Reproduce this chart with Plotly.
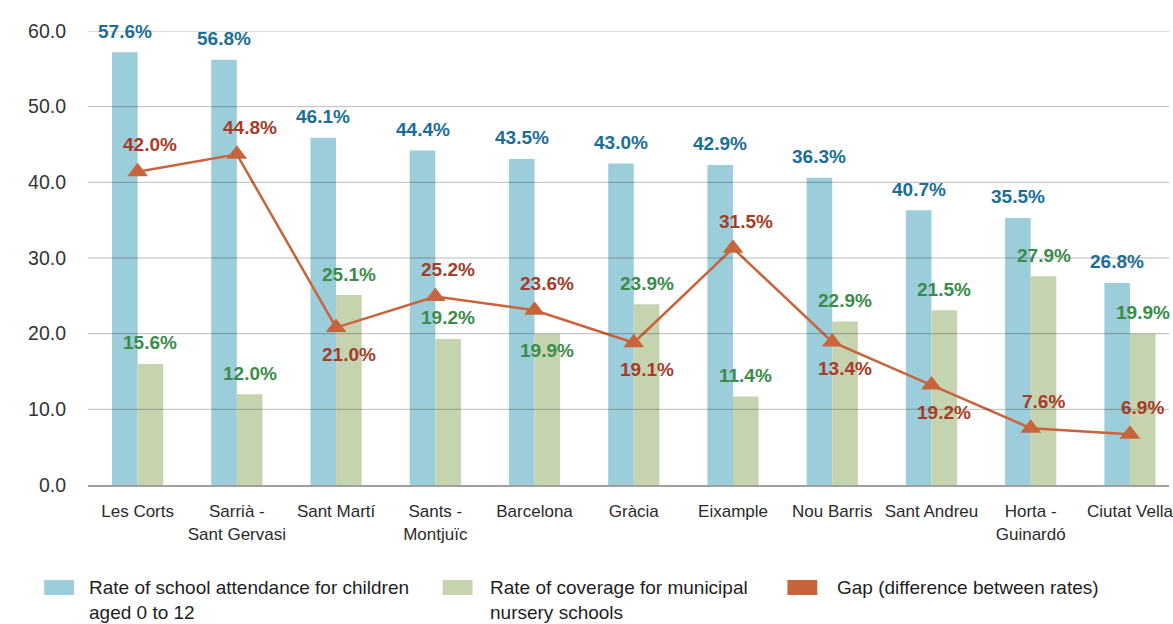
import plotly.graph_objects as go

# ---------------- data ----------------
districts = ["Les Corts", "Sarrià -<br>Sant Gervasi", "Sant Martí", "Sants -<br>Montjuïc",
             "Barcelona", "Gràcia", "Eixample", "Nou Barris", "Sant Andreu",
             "Horta -<br>Guinardó", "Ciutat Vella"]
attendance = [57.2, 56.2, 45.9, 44.2, 43.1, 42.5, 42.3, 40.6, 36.3, 35.3, 26.7]
coverage = [16.0, 12.0, 25.1, 19.3, 20.0, 23.9, 11.7, 21.6, 23.1, 27.6, 20.0]
gap = [41.4, 43.7, 20.8, 24.9, 23.1, 18.8, 31.3, 18.9, 13.2, 7.5, 6.7]

attendance_labels = ["57.6%", "56.8%", "46.1%", "44.4%", "43.5%", "43.0%", "42.9%",
                     "36.3%", "40.7%", "35.5%", "26.8%"]
coverage_labels = ["15.6%", "12.0%", "25.1%", "19.2%", "19.9%", "23.9%", "11.4%",
                   "22.9%", "21.5%", "27.9%", "19.9%"]
gap_labels = ["42.0%", "44.8%", "21.0%", "25.2%", "23.6%", "19.1%", "31.5%",
              "13.4%", "19.2%", "7.6%", "6.9%"]

y_ticks = [0, 10, 20, 30, 40, 50, 60]

series_names = [["Rate of school attendance for children", "aged 0 to 12"],
                ["Rate of coverage for municipal", "nursery schools"],
                ["Gap (difference between rates)"]]

# ---------------- style ----------------
BLUE = "#9bcdda"
GREEN = "#c5d4af"
ORANGE = "#c8643c"
BLUE_TXT = "#1b6e98"
GREEN_TXT = "#3b8c4a"
RED_TXT = "#a63c28"
coverage_pos = ["above"] * 11
coverage_pos[4] = "below"
gap_pos = ["above", "above", "below", "above", "above", "below", "above",
           "below", "below", "above", "above"]

FONT = "Liberation Sans, Arial, sans-serif"

W, H = 1173, 624
ML, MR, MT = 88, 0, 31
MB = H - 485
PW, PH = W - ML - MR, H - MT - MB
SPACING = 99.6
x_max = -0.5 + PW / SPACING

fig = go.Figure()
fig.add_trace(go.Bar(x=districts, y=attendance, marker_color=BLUE, marker_line_width=0,
                     name=" ".join(series_names[0]), showlegend=False))
fig.add_trace(go.Bar(x=districts, y=coverage, marker_color=GREEN, marker_line_width=0,
                     name=" ".join(series_names[1]), showlegend=False))
fig.add_trace(go.Scatter(x=districts, y=gap, mode="lines+markers",
                         line=dict(color=ORANGE, width=2.5),
                         marker=dict(symbol="triangle-up", size=18, color=ORANGE),
                         name=series_names[2][0], showlegend=False))

ann = []
LBL = dict(family=FONT, size=19, weight="bold")
for i, d in enumerate(districts):
    ann.append(dict(x=d, y=attendance[i], text=attendance_labels[i], showarrow=False,
                    xshift=-12.8, yshift=21, yanchor="middle",
                    font=dict(LBL, color=BLUE_TXT)))
    ann.append(dict(x=d, y=coverage[i], text=coverage_labels[i], showarrow=False,
                    xshift=12.8, yshift=21 if coverage_pos[i] == "above" else -17,
                    yanchor="middle", font=dict(LBL, color=GREEN_TXT)))
    ann.append(dict(x=d, y=gap[i], text=gap_labels[i], showarrow=False,
                    xshift=12.8, yshift=27 if gap_pos[i] == "above" else -27,
                    yanchor="middle", font=dict(LBL, color=RED_TXT)))

# gridlines drawn over the bars, as in the original
shapes = []
for t in y_ticks[1:]:
    shapes.append(dict(type="line", xref="paper", yref="y", x0=0, x1=1, y0=t, y1=t,
                       line=dict(color="rgba(0,0,0,0.27)", width=1), layer="above"))

# manual legend (pixel positions converted to paper coordinates)
def px_x(px):
    return (px - ML) / PW

def px_y(py):
    return (MT + PH - py) / PH

legend_items = [(44, 89.5, BLUE, series_names[0]),
                (444, 491, GREEN, series_names[1]),
                (790, 839.5, ORANGE, series_names[2])]
for rx, tx, col, lines in legend_items:
    shapes.append(dict(type="rect", xref="paper", yref="paper",
                       x0=px_x(rx), x1=px_x(rx + 30), y0=px_y(595), y1=px_y(580),
                       fillcolor=col, line=dict(width=0)))
    for j, line in enumerate(lines):
        ann.append(dict(xref="paper", yref="paper", x=px_x(tx), y=px_y(587 + 25 * j),
                        text=line, showarrow=False, xanchor="left", yanchor="middle",
                        xshift=-2,
                        font=dict(family=FONT, size=19, color="#1e1e1e")))

fig.update_layout(
    width=W, height=H, autosize=False,
    margin=dict(l=ML, r=MR, t=MT, b=MB, pad=0),
    paper_bgcolor="white", plot_bgcolor="white",
    barmode="group", bargap=0.484, bargroupgap=0,
    annotations=ann, shapes=shapes,
    showlegend=False,
    xaxis=dict(type="category", categoryorder="array", categoryarray=districts,
               range=[-0.5, x_max], showgrid=False, zeroline=False,
               showline=True, linecolor="#a0a0a0", linewidth=2,
               ticks="", ticklabelstandoff=10,
               tickfont=dict(family=FONT, size=17, color="#2a2a2a")),
    yaxis=dict(range=[0, 60], tickvals=y_ticks, tickformat=".1f",
               showgrid=False, zeroline=False, showline=False, ticks="",
               ticklabelstandoff=21,
               tickfont=dict(family=FONT, size=19.5, color="#333333")),
)

fig.write_html("out.html", config={"responsive": False, "displayModeBar": False},
               post_script="document.body.style.margin='0';"
                           "document.body.style.overflow='hidden';")
